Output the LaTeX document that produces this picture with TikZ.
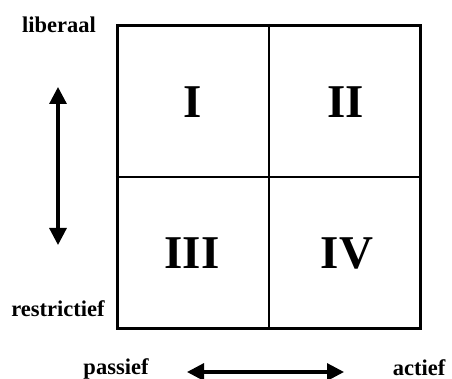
\documentclass[tikz,border=0pt]{standalone}
\usepackage{fontspec}
\setmainfont{Liberation Serif}
\usetikzlibrary{arrows.meta}
\begin{document}
\begin{tikzpicture}[x=1pt,y=-1pt,
  lbl/.style={anchor=base, inner sep=0pt, text depth=0pt, font=\fontsize{22.5}{26}\selectfont\bfseries},
  roman/.style={anchor=base, inner sep=0pt, font=\fontsize{47}{50}\selectfont\bfseries},
  dbl/.style={line width=3.2pt, {Triangle[length=17pt,width=17pt]}-{Triangle[length=17pt,width=17pt]}}]
\useasboundingbox (0,0) rectangle (452,379);
\node (box) [draw, line width=3.4pt, minimum width=303pt, minimum height=303pt, inner sep=0pt] at (269,177) {};
\draw[line width=1.6pt] (box.north) -- (box.south);
\draw[line width=1.6pt] (box.west) -- (box.east);
\node[roman] (q1) at (193,118) {I};
\node[roman] (q2) at (346,118) {II};
\node[roman] (q3) at (192,268) {III};
\node[roman] (q4) at (347,268) {IV};
\node[lbl] (lib) at (59,33) {liberaal};
\node[lbl] (res) at (58,316.5) {restrictief};
\node[lbl] (pas) at (116,374.5) {passief};
\node[lbl] (act) at (419,375) {actief};
\coordinate (vt) at (58,87);
\coordinate (vb) at (58,245);
\coordinate (hl) at (187,372);
\coordinate (hr) at (344,372);
\draw[dbl] (vt) -- (vb);
\draw[dbl] (hl) -- (hr);
\end{tikzpicture}
\end{document}
